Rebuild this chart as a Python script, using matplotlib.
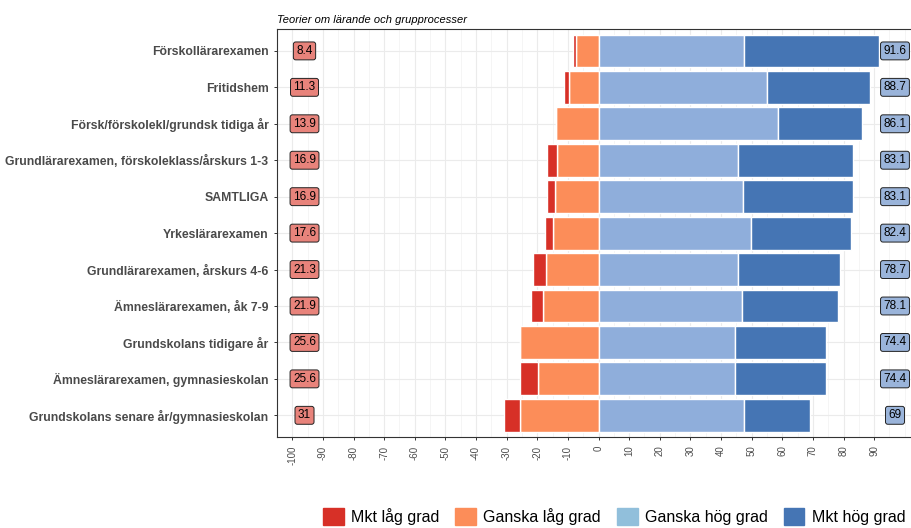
import matplotlib.pyplot as plt
from matplotlib.patches import Patch

categories = [
    "Förskollärarexamen",
    "Fritidshem",
    "Försk/förskolekl/grundsk tidiga år",
    "Grundlärarexamen, förskoleklass/årskurs 1-3",
    "SAMTLIGA",
    "Yrkeslärarexamen",
    "Grundlärarexamen, årskurs 4-6",
    "Ämneslärarexamen, åk 7-9",
    "Grundskolans tidigare år",
    "Ämneslärarexamen, gymnasieskolan",
    "Grundskolans senare år/gymnasieskolan",
]
mkt_lag = [0.9, 1.5, 0.0, 3.3, 2.8, 2.7, 4.3, 3.7, 0.0, 5.9, 5.2]
ganska_lag = [7.5, 9.8, 13.9, 13.6, 14.1, 14.9, 17.0, 18.2, 25.6, 19.7, 25.8]
ganska_hog = [47.5, 55.1, 58.6, 45.6, 47.3, 49.8, 45.6, 46.9, 44.7, 44.7, 47.6]
mkt_hog = [44.1, 33.6, 27.5, 37.5, 35.8, 32.6, 33.1, 31.2, 29.7, 29.7, 21.4]
low_total = [8.4, 11.3, 13.9, 16.9, 16.9, 17.6, 21.3, 21.9, 25.6, 25.6, 31]
high_total = [91.6, 88.7, 86.1, 83.1, 83.1, 82.4, 78.7, 78.1, 74.4, 74.4, 69]
legend_labels = ["Mkt låg grad", "Ganska låg grad", "Ganska hög grad", "Mkt hög grad"]


def main():
    plt.rcParams['font.family'] = ['Liberation Sans', 'DejaVu Sans']
    fig = plt.figure(figsize=(9.11, 5.28), dpi=100)
    ax = fig.add_axes([0.304, 0.172, 0.706, 0.773])

    n = len(categories)
    y = [n - 1 - i for i in range(n)]
    red, orange, lblue, dblue = "#d73027", "#fc8d59", "#8faedb", "#4575b4"
    kw = dict(height=0.9, edgecolor='white', linewidth=1.0, zorder=3)

    ax.barh(y, [-v for v in ganska_lag], color=orange, **kw)
    ax.barh(y, [-v for v in mkt_lag], left=[-v for v in ganska_lag], color=red, **kw)
    ax.barh(y, ganska_hog, color=lblue, **kw)
    ax.barh(y, mkt_hog, left=ganska_hog, color=dblue, **kw)

    for yi, lo, hi in zip(y, low_total, high_total):
        ax.text(-96, yi, f"{lo:g}", ha='center', va='center', fontsize=8.5, zorder=5,
                bbox=dict(boxstyle='round,pad=0.25,rounding_size=0.2', fc='#e8837b', ec='#222222', lw=0.7))
        ax.text(96.8, yi, f"{hi:g}", ha='center', va='center', fontsize=8.5, zorder=5,
                bbox=dict(boxstyle='round,pad=0.25,rounding_size=0.2', fc='#9ab4da', ec='#222222', lw=0.7))

    ax.set_xlim(-103.1, 103.1)
    ax.set_ylim(-0.6, 10.6)
    ax.set_xticks(range(-100, 91, 10))
    ax.set_xticklabels([str(t) for t in range(-100, 91, 10)], rotation=90, fontsize=7, color='#4d4d4d')
    ax.set_xticks(range(-105, 106, 5), minor=True)
    ax.set_yticks(y)
    ax.set_yticklabels(categories, fontsize=8.85, fontweight='bold', color='#4a4a4a')
    ax.tick_params(axis='both', which='major', length=2.5, color='#333333', width=0.7)
    ax.tick_params(axis='x', which='minor', length=0)
    ax.grid(True, which='major', color='#ebebeb', linewidth=0.8, zorder=0)
    ax.grid(True, which='minor', axis='x', color='#f2f2f2', linewidth=0.5, zorder=0)
    ax.set_axisbelow(True)
    for s in ax.spines.values():
        s.set_color('#333333')
        s.set_linewidth(0.8)

    ax.set_title("Teorier om lärande och grupprocesser", loc='left', fontsize=8, style='italic', pad=4)

    handles = [Patch(color=c) for c in [red, orange, "#91bfdb", dblue]]
    fig.legend(handles, legend_labels, loc='center', bbox_to_anchor=(0.674, 0.022), ncol=4,
               frameon=False, fontsize=11.5, handlelength=1.3, handleheight=1.3,
               columnspacing=1.0, handletextpad=0.45)

    fig.savefig("out.png", dpi=100)


if __name__ == "__main__":
    main()
